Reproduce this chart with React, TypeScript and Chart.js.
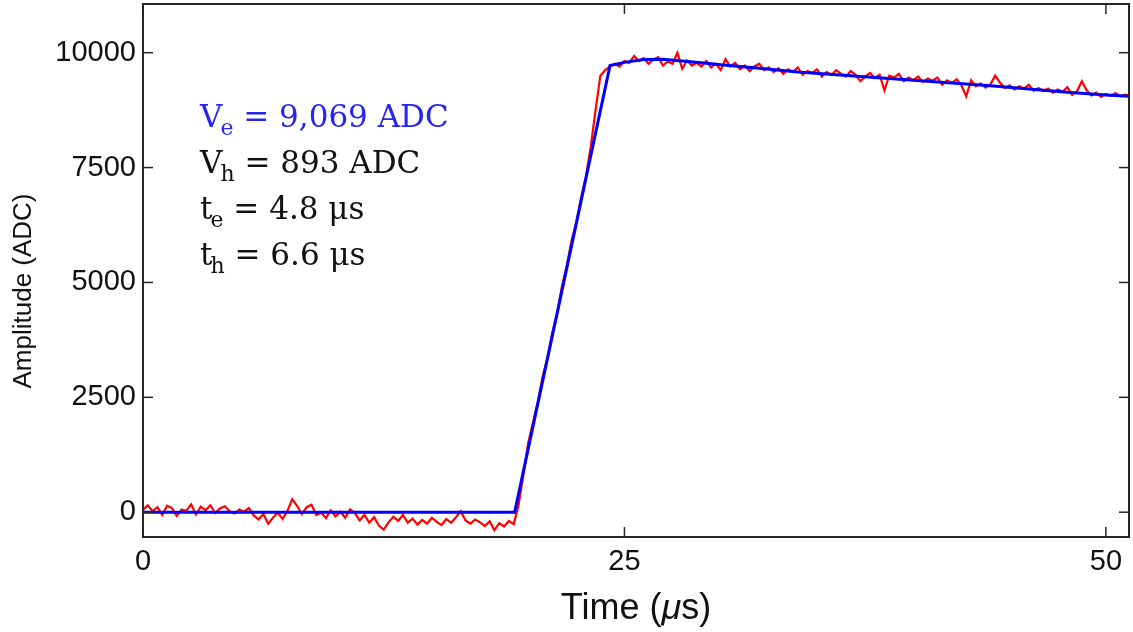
import React, { useEffect, useRef } from "react";
import { Chart, registerables } from "chart.js";

Chart.register(...registerables);

// Sampling interval of the measured trace (μs)
const SAMPLE_STEP_US = 0.25;

const signalADC: number[] = [
  50, 150, 20, 110, -60, 140, 90, -80, 60, 30,
  170, -50, 120, 40, 150, -20, 80, 130, 20, -30,
  60, 10, 90, -70, -160, -40, -250, -120, -10, -150,
  30, 280, 140, -40, 110, 160, -60, -10, -130, 40,
  -90, 10, -120, 60, -20, -180, -60, -230, -110, -290,
  -380, -220, -100, -190, -60, -230, -140, -270, -170, -250,
  -120, -210, -280, -150, -230, -110, 20, -180, -250, -160,
  -220, -300, -200, -390, -240, -310, -190, -260, 150, 800,
  1500, 1950, 2400, 2950, 3350, 3900, 4300, 4900, 5350, 5900,
  6300, 6850, 7300, 7950, 8750, 9500, 9620, 9700, 9760, 9700,
  9820, 9780, 9930, 9820, 9880, 9760, 9850, 9900, 9720, 9810,
  9760, 10000, 9650, 9830, 9720, 9780, 9700, 9820, 9680, 9760,
  9620, 9860, 9700, 9780, 9640, 9720, 9600, 9700, 9760, 9620,
  9680, 9580, 9660, 9540, 9640, 9580, 9680, 9520, 9600, 9560,
  9640, 9480, 9580, 9520, 9620, 9540, 9480, 9600, 9520, 9380,
  9480, 9560, 9450, 9520, 9180, 9500, 9460, 9540, 9380, 9460,
  9400, 9480, 9360, 9440, 9390, 9460, 9300, 9400, 9340, 9420,
  9290, 9050, 9400, 9270, 9330, 9240, 9310, 9500, 9350, 9230,
  9290, 9200, 9270, 9220, 9300, 9170, 9230, 9160, 9220, 9130,
  9200, 9150, 9250, 9080, 9160, 9380, 9180, 9070, 9130, 9040,
  9100, 9060, 9120, 9050, 9090, 9070,
];

// Fitted model (blue), anchor points
const fitTimeUs: number[] = [0, 19.3, 24.25, 25, 26, 27, 28, 29, 30, 32, 34, 36, 38, 40, 42, 44, 46, 48, 50, 51.2];
const fitADC: number[] = [0, 0, 9720, 9790, 9850, 9860, 9820, 9780, 9740, 9660, 9580, 9520, 9460, 9400, 9340, 9280, 9210, 9140, 9080, 9050];

const xTicks: number[] = [0, 25, 50];
const yTicks: number[] = [0, 2500, 5000, 7500, 10000];

const X_MIN = 0;
const X_MAX = 51.2;
const Y_MIN = -540;
const Y_MAX = 11060;

const annotationLines = [
  { main: "V", sub: "e", rest: " = 9,069 ADC", color: "#2626f0" },
  { main: "V", sub: "h", rest: " = 893 ADC", color: "#111111" },
  { main: "t", sub: "e", rest: " = 4.8 μs", color: "#111111" },
  { main: "t", sub: "h", rest: " = 6.6 μs", color: "#111111" },
];

const Y_TITLE = "Amplitude (ADC)";

const SANS = "Arial, 'Liberation Sans', sans-serif";
const SERIF = "'DejaVu Serif', serif";

const boxPlugin = {
  id: "matlabBox",
  afterDatasetsDraw(chart: any) {
    const { ctx, chartArea } = chart;
    const { left, right, top, bottom } = chartArea;
    const xs = chart.scales.x;
    const ys = chart.scales.y;
    ctx.save();
    ctx.strokeStyle = "#262626";
    ctx.lineWidth = 2;
    ctx.strokeRect(left, top, right - left, bottom - top);
    ctx.lineWidth = 1.5;
    const L = 10;
    const seg = (x1: number, y1: number, x2: number, y2: number) => {
      ctx.beginPath();
      ctx.moveTo(x1, y1);
      ctx.lineTo(x2, y2);
      ctx.stroke();
    };
    xTicks.forEach((v) => {
      const px = xs.getPixelForValue(v);
      seg(px, bottom, px, bottom - L);
      seg(px, top, px, top + L);
    });
    yTicks.forEach((v) => {
      const py = ys.getPixelForValue(v);
      seg(left, py, left + L, py);
      seg(right, py, right - L, py);
    });

    // annotation text
    const x0 = left + 57;
    const firstBaseline = top + 123;
    const lineGap = 46;
    annotationLines.forEach((ln, i) => {
      const base = firstBaseline + i * lineGap;
      ctx.fillStyle = ln.color;
      ctx.textBaseline = "alphabetic";
      ctx.textAlign = "left";
      ctx.font = `31px ${SERIF}`;
      let cx = x0;
      ctx.fillText(ln.main, cx, base);
      cx += ctx.measureText(ln.main).width - 2;
      ctx.font = `22px ${SERIF}`;
      ctx.fillText(ln.sub, cx, base + 8);
      cx += ctx.measureText(ln.sub).width;
      ctx.font = `31px ${SERIF}`;
      ctx.fillText(ln.rest, cx, base);
    });

    // x-axis title with italic mu
    const parts = [
      { t: "Time (", f: `36px ${SANS}` },
      { t: "μ", f: `italic 36px ${SANS}` },
      { t: "s)", f: `36px ${SANS}` },
    ];
    let total = 0;
    parts.forEach((p) => {
      ctx.font = p.f;
      total += ctx.measureText(p.t).width;
    });
    let tx = (left + right) / 2 - total / 2;
    const ty = 619;
    ctx.fillStyle = "#111111";
    parts.forEach((p) => {
      ctx.font = p.f;
      ctx.fillText(p.t, tx, ty);
      tx += ctx.measureText(p.t).width;
    });

    // y-axis title
    ctx.translate(24, 291);
    ctx.rotate(-Math.PI / 2);
    ctx.font = `26px ${SANS}`;
    ctx.textAlign = "center";
    ctx.textBaseline = "middle";
    ctx.fillText(Y_TITLE, 0, 0);
    ctx.restore();
  },
};

export default function App() {
  const canvasRef = useRef<HTMLCanvasElement | null>(null);

  useEffect(() => {
    if (!canvasRef.current) return;
    const signalPoints = signalADC.map((v, i) => ({ x: i * SAMPLE_STEP_US, y: v }));
    const fitPoints = fitTimeUs.map((t, i) => ({ x: t, y: fitADC[i] }));

    const chart = new Chart(canvasRef.current, {
      type: "line",
      data: {
        datasets: [
          {
            label: "Fit",
            data: fitPoints,
            borderColor: "#0000ff",
            borderWidth: 3,
            pointRadius: 0,
            tension: 0,
            order: 0,
          },
          {
            label: "Signal",
            data: signalPoints,
            borderColor: "#ff0000",
            borderWidth: 2.2,
            pointRadius: 0,
            tension: 0,
            order: 1,
          },
        ],
      },
      options: {
        animation: false,
        responsive: false,
        layout: { padding: { top: 4, right: 4, left: 0, bottom: 0 } },
        plugins: {
          legend: { display: false },
          tooltip: { enabled: false },
        },
        scales: {
          x: {
            type: "linear",
            min: X_MIN,
            max: X_MAX,
            grid: { display: false, drawTicks: false },
            border: { display: false },
            afterBuildTicks: (scale: any) => {
              scale.ticks = xTicks.map((v) => ({ value: v }));
            },
            afterFit: (scale: any) => {
              scale.height = 95;
              scale.paddingLeft = 0;
              scale.paddingRight = 0;
            },
            ticks: {
              color: "#111111",
              font: { family: SANS, size: 29 },
              padding: 8,
              maxRotation: 0,
              callback: (v: any) => String(v),
            },
          },
          y: {
            type: "linear",
            min: Y_MIN,
            max: Y_MAX,
            grid: { display: false, drawTicks: false },
            border: { display: false },
            afterBuildTicks: (scale: any) => {
              scale.ticks = yTicks.map((v) => ({ value: v }));
            },
            afterFit: (scale: any) => {
              scale.width = 143;
              scale.paddingTop = 0;
              scale.paddingBottom = 0;
            },
            ticks: {
              color: "#111111",
              font: { family: SANS, size: 29 },
              padding: 7,
              callback: (v: any) => String(v),
            },
          },
        },
      },
      plugins: [boxPlugin],
    });
    return () => chart.destroy();
  }, []);

  return (
    <div style={{ position: "absolute", left: 0, top: 0, width: 1133, height: 632, background: "#ffffff" }}>
      <canvas ref={canvasRef} width={1133} height={632} style={{ display: "block" }} />
    </div>
  );
}
